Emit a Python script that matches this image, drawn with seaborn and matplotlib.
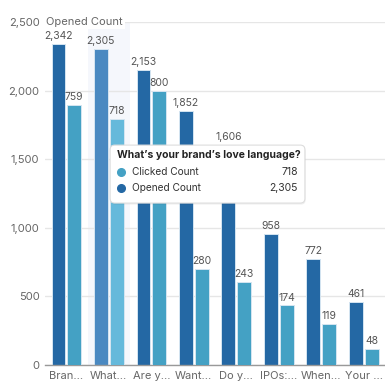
import matplotlib
matplotlib.use('Agg')
import matplotlib.pyplot as plt
import seaborn as sns
import pandas as pd
from matplotlib.patches import FancyBboxPatch
from matplotlib.lines import Line2D

categories = ["Bran...", "What...", "Are y...", "Want...", "Do y...", "IPOs:...", "When...", "Your ..."]
opened = [2342, 2305, 2153, 1852, 1606, 958, 772, 461]
clicked = [759, 718, 800, 280, 243, 174, 119, 48]
series = ["Opened Count", "Clicked Count"]
yticks = [0, 500, 1000, 1500, 2000, 2500]
tooltip_title = "What’s your brand’s love language?"
tooltip_index = 1

c_open, c_click = '#2468a4', '#44a1c4'
h_open, h_click = '#4a89c1', '#65b9db'

sns.set_theme(style='white')
plt.rcParams['font.family'] = ['Inter', 'DejaVu Sans']

df_open = pd.DataFrame({'cat': categories, 'value': opened, 'series': series[0]})
df_click = pd.DataFrame({'cat': categories, 'value': clicked, 'series': series[1]})
pal = {series[0]: c_open, series[1]: c_click}

fig = plt.figure(figsize=(3.85, 3.89), dpi=100)
ax = fig.add_axes([0.117, 0.0617, 0.883, 0.8817])

sns.barplot(data=df_open, x='cat', y='value', hue='series', hue_order=series,
            palette=pal, saturation=1, width=0.74, gap=0.12, dodge=True, ax=ax, legend=False,
            edgecolor='#d5e5f1', linewidth=0.7, zorder=2)
ax2 = ax.twinx()
sns.barplot(data=df_click, x='cat', y='value', hue='series', hue_order=series,
            palette=pal, saturation=1, width=0.74, gap=0.12, dodge=True, ax=ax2, legend=False,
            edgecolor='#d5e5f1', linewidth=0.7, zorder=2)

ax.axvspan(tooltip_index - 0.5, tooltip_index + 0.5, color='#f5f7fc', zorder=0, lw=0)

ax.set_ylim(0, 2500)
ax2.set_ylim(0, 1000)
ax.set_xlim(-0.5, len(categories) - 0.5)
ax2.set_xlim(-0.5, len(categories) - 0.5)

def bars_of(a):
    for cont in a.containers:
        hs = [p.get_height() for p in cont]
        if any(h == h and h > 0 for h in hs):
            return cont

ob = bars_of(ax)
cb = bars_of(ax2)
ob[tooltip_index].set_facecolor(h_open)
cb[tooltip_index].set_facecolor(h_click)

ax.bar_label(ob, labels=[f'{v:,}' for v in opened], padding=2, fontsize=7.5, color='#555555')
ax2.bar_label(cb, labels=[f'{v:,}' for v in clicked], padding=2, fontsize=7.5, color='#555555')

ax.set_yticks(yticks)
ax.set_yticklabels([f'{v:,}' for v in yticks])
ax.yaxis.grid(True, color='#e6e6e6', lw=1)
ax.set_axisbelow(True)
ax.tick_params(axis='y', length=0, pad=4, labelsize=8, labelcolor='#666666')
ax.tick_params(axis='x', length=0, pad=4, labelsize=8, labelcolor='#666666')
ax.set_xlabel('')
ax.set_ylabel('')
ax2.set_ylabel('')
ax2.set_yticks([])
for s in ['top', 'right', 'left']:
    ax.spines[s].set_visible(False)
for s in ['top', 'right', 'left', 'bottom']:
    ax2.spines[s].set_visible(False)
ax.spines['bottom'].set_color('#999999')
ax.spines['bottom'].set_linewidth(1)

ax.annotate(series[0], xy=(0, 1), xycoords='axes fraction', xytext=(1, 0),
            textcoords='offset points', va='center', ha='left', fontsize=8,
            color='#666666', bbox=dict(facecolor='white', edgecolor='none', pad=1.5),
            annotation_clip=False, zorder=5)

# tooltip
fig.add_artist(FancyBboxPatch((0.288, 0.474), 0.506, 0.149,
                              boxstyle='round,pad=0,rounding_size=0.012',
                              transform=fig.transFigure, facecolor='#000000',
                              alpha=0.06, edgecolor='none', zorder=9))
fig.add_artist(FancyBboxPatch((0.286, 0.478), 0.506, 0.149,
                              boxstyle='round,pad=0,rounding_size=0.012',
                              transform=fig.transFigure, facecolor='white',
                              edgecolor='#dddddd', lw=0.8, zorder=10))
fig.text(0.304, 0.6015, tooltip_title, fontsize=7.5, fontweight='bold',
         color='#222222', va='center', ha='left', zorder=11)
rows = [(series[1], clicked[tooltip_index], c_click, 0.558),
        (series[0], opened[tooltip_index], c_open, 0.517)]
for name, val, col, yy in rows:
    fig.add_artist(Line2D([0.314], [yy], marker='o', ms=5.5, color=col,
                          transform=fig.transFigure, zorder=11))
    fig.text(0.343, yy, name, fontsize=7.3, color='#333333', va='center', ha='left', zorder=11)
    fig.text(0.774, yy, f'{val:,}', fontsize=7.5, color='#333333', va='center', ha='right', zorder=11)

fig.savefig('out.png', dpi=100)
